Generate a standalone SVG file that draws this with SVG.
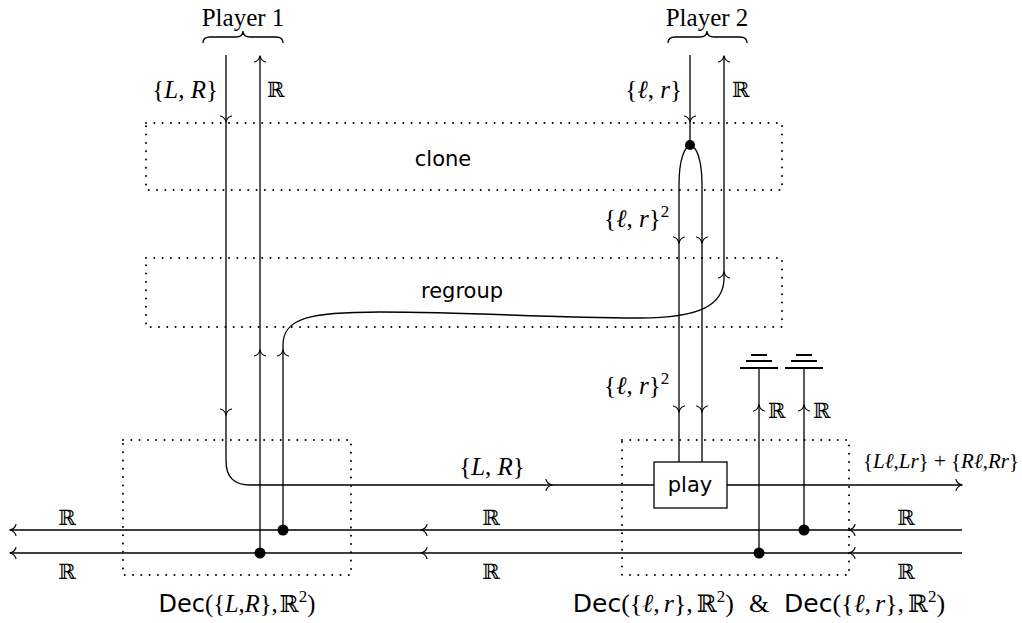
<svg xmlns="http://www.w3.org/2000/svg" width="1022" height="623" viewBox="0 0 1022 623">
<style>
.w{fill:none;stroke:#000;stroke-width:1.3}
.dot{fill:none;stroke:#000;stroke-width:2;stroke-linecap:round;stroke-dasharray:0 8.3}
.ah{fill:none;stroke:#000;stroke-width:1.2;stroke-linecap:round}
.m{font-family:"Liberation Serif",serif;font-size:25px;fill:#000}
.i{font-style:italic}
.bb{font-family:"DejaVu Serif",serif;font-size:21px}
.s{font-family:"DejaVu Sans",sans-serif;font-size:21px;fill:#000}
.sup{font-size:17px}
.big{font-size:26px}
.g{stroke:#000;stroke-width:2}
</style>
<defs>
<path id="ah" class="ah" d="M-6,-5.5 C-5,-2 -2,-0.4 0.5,0 C-2,0.4 -5,2 -6,5.5"/>
<g id="gnd"><line class="g" x1="-8" y1="0" x2="8" y2="0"/><line class="g" x1="-13" y1="6" x2="13" y2="6"/><line class="g" x1="-19" y1="13" x2="19" y2="13" stroke-width="2.5"/></g>
</defs>
<rect width="1022" height="623" fill="#fff"/>

<g id="player1">
<text class="m" x="243" y="26" text-anchor="middle">Player 1</text>
<path class="w" d="M203,43 Q203,37 210,37 L236,37 Q243,37 243,31 Q243,37 250,37 L276,37 Q283,37 283,43"/>
</g>
<g id="player2">
<text class="m" x="707" y="26" text-anchor="middle">Player 2</text>
<path class="w" d="M668,43 Q668,37 675,37 L700,37 Q707,37 707,31 Q707,37 714,37 L740,37 Q747,37 747,43"/>
</g>

<g id="clone">
<path class="dot" d="M146,123 H782 V190 H146 Z"/>
<text class="s" x="443" y="166" text-anchor="middle">clone</text>
</g>
<g id="regroup">
<path class="dot" d="M146,258 H782 V327 H146 Z"/>
<text class="s" x="462" y="298" text-anchor="middle">regroup</text>
</g>
<g id="dec1">
<path class="dot" d="M123,440 H351 V575 H123 Z"/>
<text class="m" x="237" y="612" text-anchor="middle" style="font-size:24.5px"><tspan class="s" style="font-size:24px">Dec</tspan>({<tspan class="i">L</tspan>,<tspan class="i">R</tspan>},<tspan class="bb" dx="2" style="font-size:23px">ℝ</tspan><tspan class="sup" dy="-10">2</tspan><tspan dy="10">)</tspan></text>
</g>
<g id="dec2">
<path class="dot" d="M622,440 H849 V575 H622 Z"/>
<text class="m big" x="759" y="612" text-anchor="middle"><tspan class="s" style="font-size:25px">Dec</tspan>({<tspan class="i">ℓ</tspan>,<tspan class="i" dx="4">r</tspan>},<tspan class="bb" dx="4" style="font-size:24px">ℝ</tspan><tspan class="sup" dy="-10">2</tspan><tspan dy="10">)</tspan><tspan dx="15">&amp;</tspan><tspan class="s" dx="15" style="font-size:25px">Dec</tspan>({<tspan class="i">ℓ</tspan>,<tspan class="i" dx="4">r</tspan>},<tspan class="bb" dx="4" style="font-size:24px">ℝ</tspan><tspan class="sup" dy="-10">2</tspan><tspan dy="10">)</tspan></text>
</g>
<g id="play">
<rect x="654" y="462" width="73" height="46" fill="#fff" stroke="#000" stroke-width="1.3"/>
<text class="s" x="690" y="492" text-anchor="middle">play</text>
</g>
<g id="ground1"><use href="#gnd" x="759" y="355"/></g>
<g id="ground2"><use href="#gnd" x="804" y="355"/></g>

<g id="connectors">
<path class="w" d="M226,55 V461 Q226,485 250,485 H654"/>
<path class="w" d="M727,485 H962"/>
<path class="w" d="M260,553 V56"/>
<path class="w" d="M283,530 V345 C283,318 310,312 380,312 C480,312 540,318 640,318 C700,318 724,305 724,278 V56"/>
<path class="w" d="M690,55 V145"/>
<path class="w" d="M679,462 V185 C679,133 702,133 702,185 V462"/>
<path class="w" d="M962,530 H10"/>
<path class="w" d="M962,553 H10"/>
<path class="w" d="M759,368 V553"/>
<path class="w" d="M804,368 V530"/>
<circle cx="690" cy="145" r="5"/>
<circle cx="283" cy="530" r="5.5"/>
<circle cx="260" cy="553" r="5.5"/>
<circle cx="759" cy="553" r="5.5"/>
<circle cx="804" cy="530" r="5.5"/>
<use href="#ah" transform="translate(226,122) rotate(90)"/>
<use href="#ah" transform="translate(226,415) rotate(90)"/>
<use href="#ah" transform="translate(690,122) rotate(90)"/>
<use href="#ah" transform="translate(679,243) rotate(90)"/>
<use href="#ah" transform="translate(702,243) rotate(90)"/>
<use href="#ah" transform="translate(679,412) rotate(90)"/>
<use href="#ah" transform="translate(702,412) rotate(90)"/>
<use href="#ah" transform="translate(260,56) rotate(-90)"/>
<use href="#ah" transform="translate(260,350) rotate(-90)"/>
<use href="#ah" transform="translate(283,350) rotate(-90)"/>
<use href="#ah" transform="translate(724,56) rotate(-90)"/>
<use href="#ah" transform="translate(724,272) rotate(-90)"/>
<use href="#ah" transform="translate(759,405) rotate(-90)"/>
<use href="#ah" transform="translate(804,405) rotate(-90)"/>
<use href="#ah" transform="translate(552,485)"/>
<use href="#ah" transform="translate(962,485)"/>
<use href="#ah" transform="translate(10,530) rotate(180)"/>
<use href="#ah" transform="translate(10,553) rotate(180)"/>
<use href="#ah" transform="translate(421,530) rotate(180)"/>
<use href="#ah" transform="translate(421,553) rotate(180)"/>
<use href="#ah" transform="translate(849,530) rotate(180)"/>
<use href="#ah" transform="translate(849,553) rotate(180)"/>
</g>

<g id="labels">
<text class="m" x="218" y="98" text-anchor="end">{<tspan class="i">L</tspan>, <tspan class="i">R</tspan>}</text>
<text class="m bb" x="267" y="97">ℝ</text>
<text class="m" x="682" y="98" text-anchor="end">{<tspan class="i">ℓ</tspan>, <tspan class="i">r</tspan>}</text>
<text class="m bb" x="732" y="97">ℝ</text>
<text class="m" x="604" y="227">{<tspan class="i">ℓ</tspan>, <tspan class="i">r</tspan>}<tspan class="sup" dy="-10">2</tspan></text>
<text class="m" x="604" y="394">{<tspan class="i">ℓ</tspan>, <tspan class="i">r</tspan>}<tspan class="sup" dy="-10">2</tspan></text>
<text class="m bb" x="768" y="418">ℝ</text>
<text class="m bb" x="813" y="418">ℝ</text>
<text class="m" x="492" y="475" text-anchor="middle">{<tspan class="i">L</tspan>, <tspan class="i">R</tspan>}</text>
<text class="m" x="941" y="468" text-anchor="middle" style="font-size:21px">{<tspan class="i">Lℓ</tspan>,<tspan class="i">Lr</tspan>} + {<tspan class="i">Rℓ</tspan>,<tspan class="i">Rr</tspan>}</text>
<text class="m bb" x="67" y="525" text-anchor="middle">ℝ</text>
<text class="m bb" x="67" y="579" text-anchor="middle">ℝ</text>
<text class="m bb" x="491" y="525" text-anchor="middle">ℝ</text>
<text class="m bb" x="491" y="579" text-anchor="middle">ℝ</text>
<text class="m bb" x="906" y="525" text-anchor="middle">ℝ</text>
<text class="m bb" x="906" y="579" text-anchor="middle">ℝ</text>
</g>
</svg>
